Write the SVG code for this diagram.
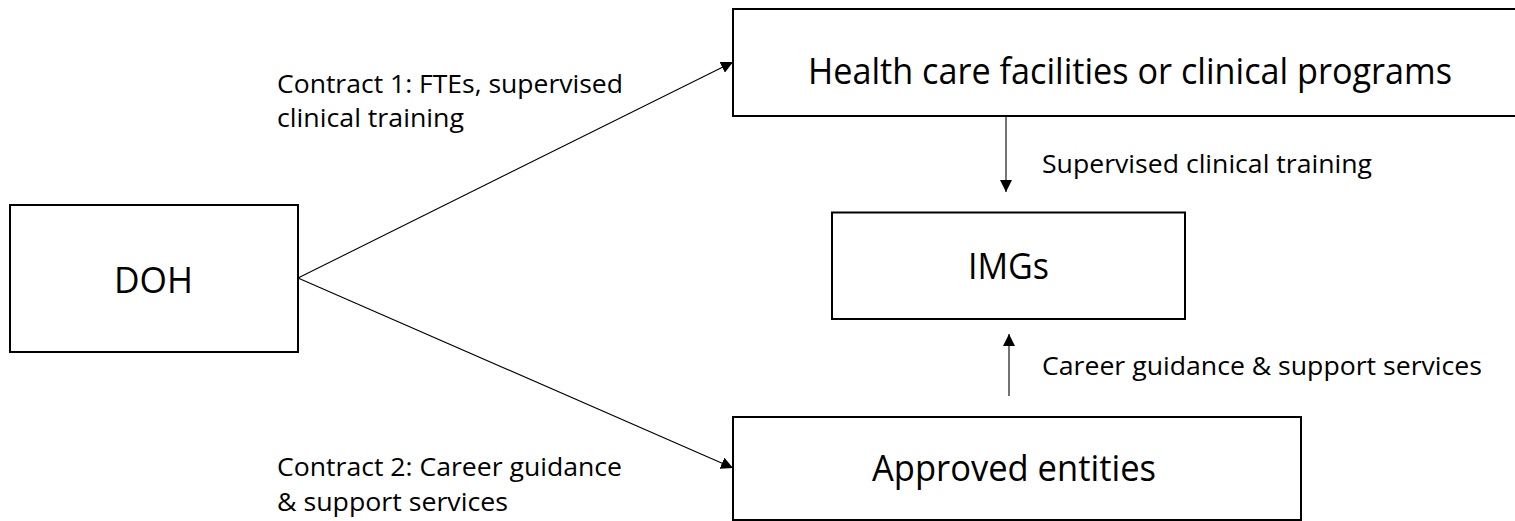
<svg xmlns="http://www.w3.org/2000/svg" width="1515" height="521" viewBox="0 0 1515 521">
<style>
  .box { fill: #ffffff; stroke: #000000; stroke-width: 2; }
  .big { font-family: "Open Sans", "Noto Sans", sans-serif; font-size: 37px; fill: #000000; }
  .small { font-family: "Open Sans", "Noto Sans", sans-serif; font-size: 26px; fill: #000000; }
  .conn { stroke: #000000; stroke-width: 1.1; fill: none; }
</style>
<defs>
  <marker id="arrow" viewBox="0 0 12 12" refX="12" refY="6" markerWidth="12" markerHeight="12" markerUnits="userSpaceOnUse" orient="auto">
    <path d="M0,0 L12,6 L0,12 Z" fill="#000000"/>
  </marker>
</defs>
<rect width="1515" height="521" fill="#ffffff"/>
<g id="connectors">
  <line class="conn" x1="298" y1="278" x2="733" y2="62" marker-end="url(#arrow)"/>
  <line class="conn" x1="298" y1="278" x2="733" y2="468" marker-end="url(#arrow)"/>
  <line class="conn" x1="1006" y1="117" x2="1006" y2="192" marker-end="url(#arrow)"/>
  <line class="conn" x1="1009" y1="396" x2="1009" y2="334" marker-end="url(#arrow)"/>
  <text class="small" x="277" y="93" textLength="346" lengthAdjust="spacingAndGlyphs">Contract 1: FTEs, supervised</text>
  <text class="small" x="277" y="127" textLength="187" lengthAdjust="spacingAndGlyphs">clinical training</text>
  <text class="small" x="277" y="476" textLength="345" lengthAdjust="spacingAndGlyphs">Contract 2: Career guidance</text>
  <text class="small" x="277" y="511" textLength="231" lengthAdjust="spacingAndGlyphs">&amp; support services</text>
  <text class="small" x="1042" y="173" textLength="330" lengthAdjust="spacingAndGlyphs">Supervised clinical training</text>
  <text class="small" x="1042" y="375" textLength="440" lengthAdjust="spacingAndGlyphs">Career guidance &amp; support services</text>
</g>
<g id="node-doh">
  <rect class="box" x="10" y="205" width="288" height="147"/>
  <text class="big" x="114" y="293" textLength="79" lengthAdjust="spacingAndGlyphs">DOH</text>
</g>
<g id="node-health">
  <rect class="box" x="733" y="9" width="800" height="107"/>
  <text class="big" x="808" y="84" textLength="644" lengthAdjust="spacingAndGlyphs">Health care facilities or clinical programs</text>
</g>
<g id="node-imgs">
  <rect class="box" x="832" y="212.5" width="353" height="106.5"/>
  <text class="big" x="968" y="279" textLength="81" lengthAdjust="spacingAndGlyphs">IMGs</text>
</g>
<g id="node-approved">
  <rect class="box" x="733" y="417" width="568" height="103"/>
  <text class="big" x="872" y="481" textLength="284" lengthAdjust="spacingAndGlyphs">Approved entities</text>
</g>
</svg>
